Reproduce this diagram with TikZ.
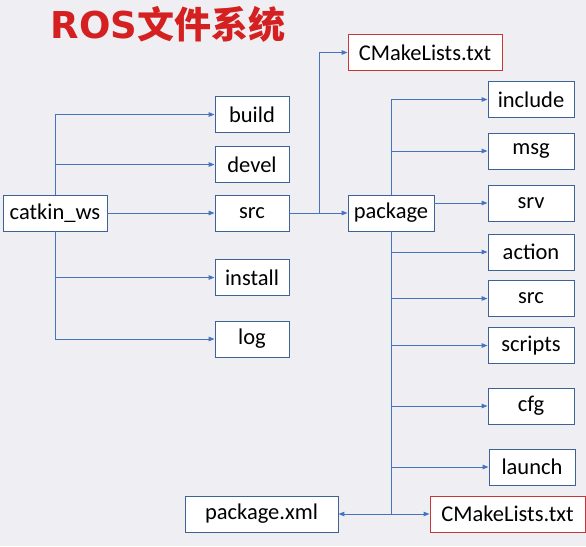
\documentclass[tikz,border=0pt]{standalone}
\usepackage{fontspec}
\setmainfont{Carlito}
\newfontfamily\cjkfont{Noto Sans CJK SC}
\newfontfamily\latinbold{DejaVu Sans}
\usepackage{xcolor}
\usepackage{tikz}
\usetikzlibrary{arrows.meta, positioning}
\definecolor{bgcol}{RGB}{239,239,243}
\definecolor{boxblue}{RGB}{62,98,150}
\definecolor{lineblue}{RGB}{70,114,190}
\definecolor{titlered}{RGB}{212,32,32}
\definecolor{filered}{RGB}{200,55,55}

\begin{document}
\begin{tikzpicture}[x=1pt, y=-1pt,
  dirbox/.style={draw=boxblue, fill=white, line width=0.9pt,
    minimum height=36pt, minimum width=74pt, inner sep=0pt,
    font=\fontsize{22.5}{22.5}\selectfont},
  filebox/.style={dirbox, draw=filered},
  conn/.style={draw=lineblue, line width=1pt,
    -{Triangle[length=6pt,width=4.5pt]}}]
  \fill[bgcol] (0,0) rectangle (586,546);
  \useasboundingbox (0,0) rectangle (586,546);
  \node (title) [text=titlered, inner sep=0pt,
    font=\bfseries\fontsize{37}{37}\selectfont]
    at (168,24) {{\latinbold ROS}{\cjkfont 文件系统}};
  % workspace
  \node (ws)      [dirbox, minimum width=104pt] at (55,213)  {catkin\_ws};
  \node (build)   [dirbox] at (252,114.5) {build};
  \node (devel)   [dirbox] at (252,164.5) {devel};
  \node (src)     [dirbox] at (252,213)   {src};
  \node (install) [dirbox] at (252,277.5) {install};
  \node (log)     [dirbox] at (252,339)   {log};
  % package
  \node (cmaketop) [filebox, minimum width=154pt] at (425,52.5) {CMakeLists.txt};
  \node (pkg)     [dirbox, minimum width=86pt] at (391,213) {package};
  \node (include) [dirbox, minimum width=86pt] at (531,99.5)  {include};
  \node (msg)     [dirbox, minimum width=86pt] at (531,151)   {msg};
  \node (srv)     [dirbox, minimum width=86pt] at (531,203)   {srv};
  \node (action)  [dirbox, minimum width=86pt] at (531,252)   {action};
  \node (pkgsrc)  [dirbox, minimum width=86pt] at (531,298.5) {src};
  \node (scripts) [dirbox, minimum width=86pt] at (531,345.5) {scripts};
  \node (cfg)     [dirbox, minimum width=86pt] at (531,406)   {cfg};
  \node (launch)  [dirbox, minimum width=86pt] at (532,467)   {launch};
  \node (cmakebot) [filebox, minimum width=155pt] at (507.5,514) {CMakeLists.txt};
  \node (pkgxml)  [dirbox, minimum width=153pt] at (261.5,514) {package.xml};
  \coordinate (split) at (319,213);

  \foreach \b in {build,devel}
    \draw[conn] (ws.north) |- (\b);
  \foreach \b in {install,log}
    \draw[conn] (ws.south) |- (\b);
  \draw[conn] (ws) -- (src);
  \draw[conn] (src) -- (pkg);
  \draw[conn] (split) |- (cmaketop);
  \foreach \b in {include,msg}
    \draw[conn] (pkg.north) |- (\b);
  \draw[conn] (pkg.east |- srv) -- (srv);
  \foreach \b in {action,pkgsrc,scripts,cfg,launch,cmakebot,pkgxml}
    \draw[conn] (pkg.south) |- (\b);
\end{tikzpicture}
\end{document}
